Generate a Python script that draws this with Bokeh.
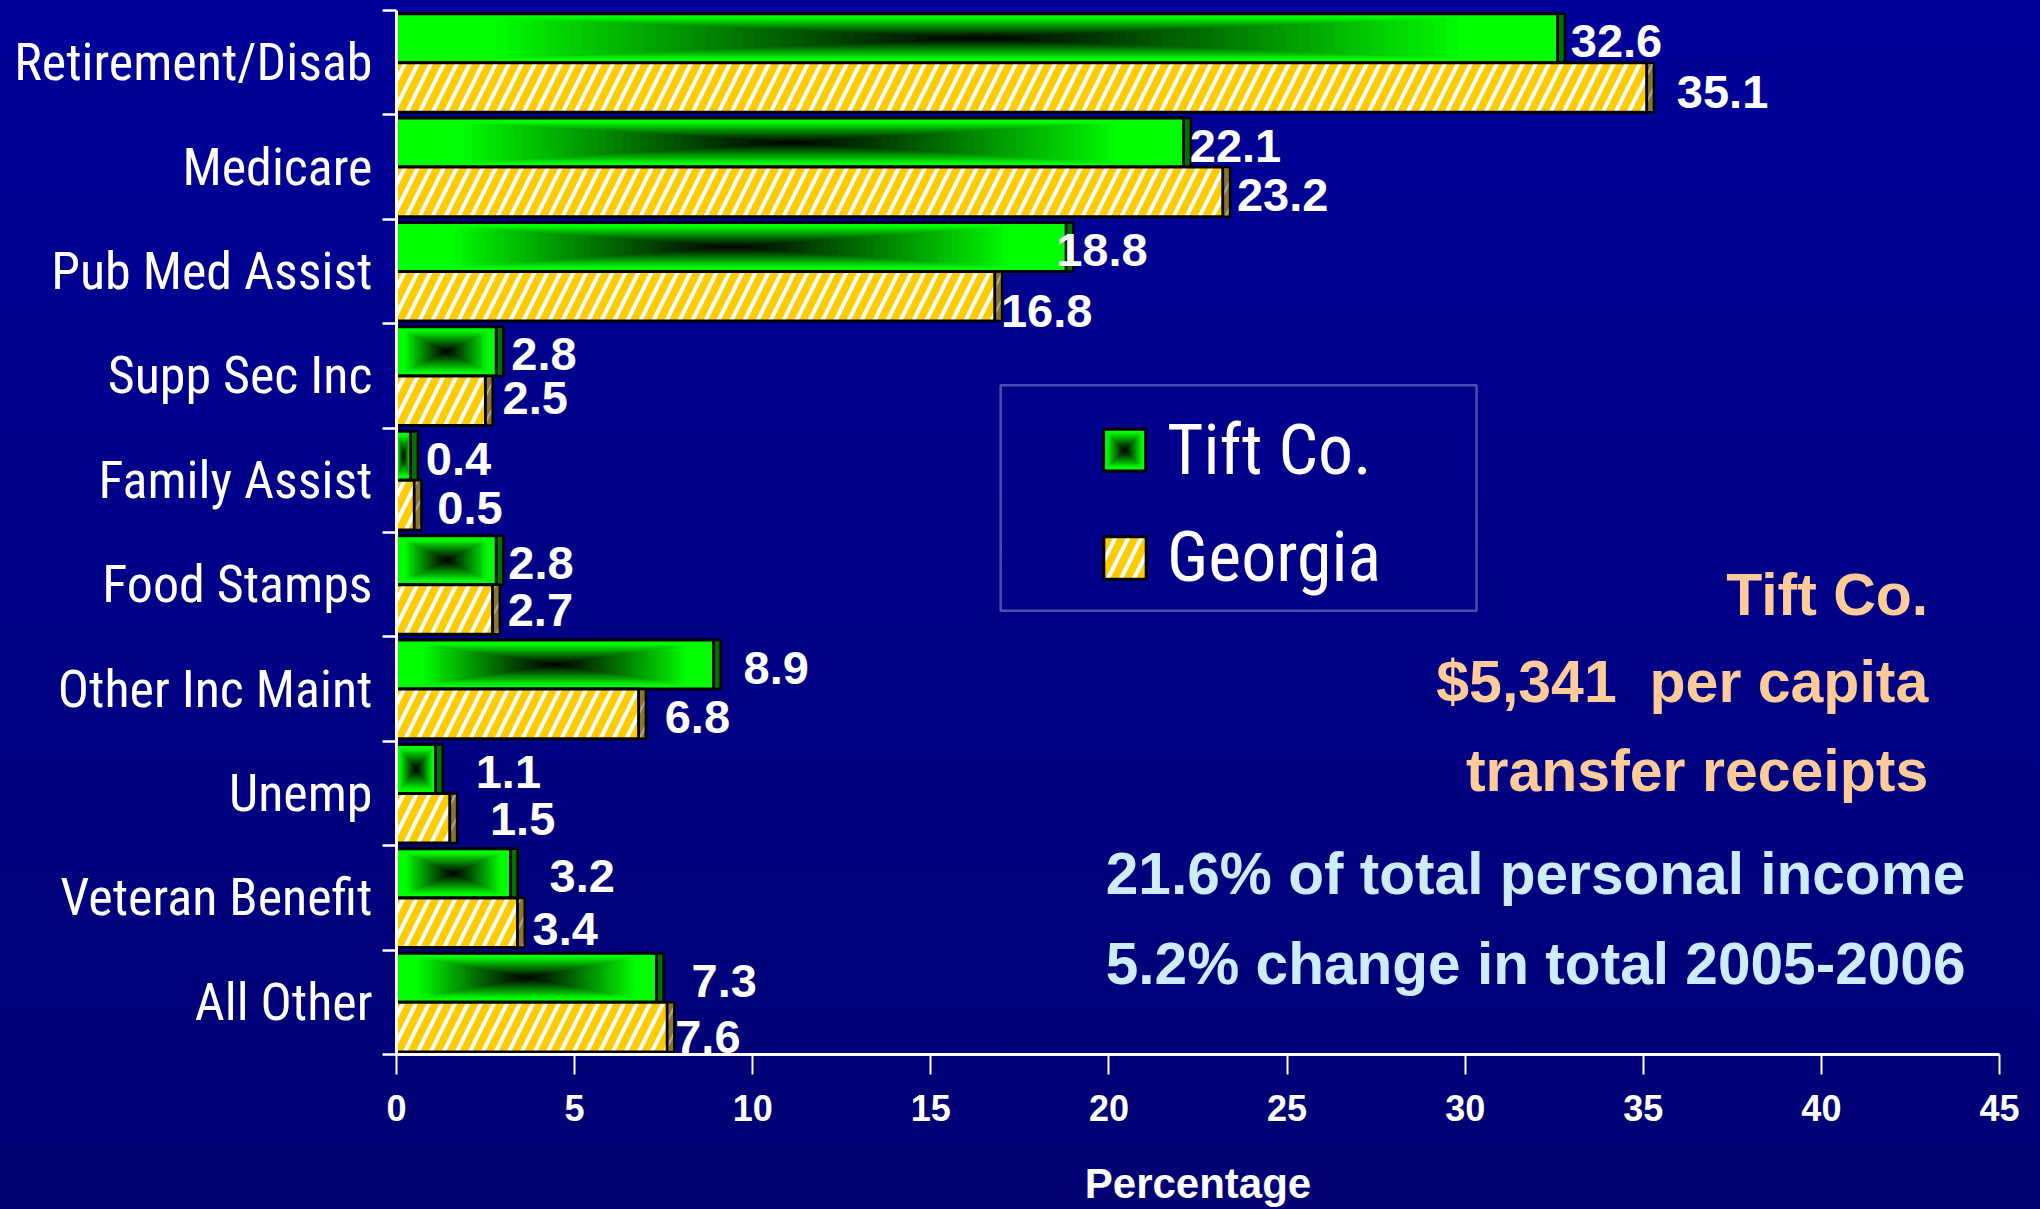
import subprocess
import numpy as np
from bokeh.plotting import figure
from bokeh.models import (ColumnDataSource, Range1d, FixedTicker, Legend, LegendItem,
                          Label, BoxAnnotation)
from bokeh.embed import file_html
from bokeh.resources import INLINE
from bokeh.core.properties import value

# ---------------- data ----------------
CATEGORIES = ["Retirement/Disab", "Medicare", "Pub Med Assist", "Supp Sec Inc",
              "Family Assist", "Food Stamps", "Other Inc Maint", "Unemp",
              "Veteran Benefit", "All Other"]
TIFT = [32.6, 22.1, 18.8, 2.8, 0.4, 2.8, 8.9, 1.1, 3.2, 7.3]
GEORGIA = [35.1, 23.2, 16.8, 2.5, 0.5, 2.7, 6.8, 1.5, 3.4, 7.6]
SERIES = ["Tift Co.", "Georgia"]
X_TICKS = [0, 5, 10, 15, 20, 25, 30, 35, 40, 45]
X_LABEL = "Percentage"
NOTE_PEACH = ["Tift Co.", "$5,341\u00a0 per capita", "transfer receipts"]
NOTE_BLUE = ["21.6% of total personal income", "5.2% change in total 2005-2006"]

# label nudges in screen px (placement of value labels as in the original)
TIFT_LABEL_DX = [13, 6, -10, 15, 15, 12, 30, 40, 39, 35]
GEORGIA_LABEL_DX = [30, 14, 6, 17, 23, 15, 26, 40, 15, 8]
GEORGIA_LABEL_DY = [5, 3, 15, -3, 3, 1, 3, 1, 6, 10]


# ---------------- fonts ----------------
def _families():
    try:
        return subprocess.run(["fc-list", ":", "family"], capture_output=True,
                              text=True, timeout=20).stdout.lower()
    except Exception:
        return ""


_fam = _families()
NARROW = "DejaVu Sans Condensed"
for cand in ["Liberation Sans Narrow", "Arial Narrow", "Roboto Condensed",
             "Open Sans Condensed", "DejaVu Sans Condensed"]:
    if cand.lower() in _fam:
        NARROW = cand
        break
BOLD = "Liberation Sans"

# ---------------- styling ----------------
GREEN = "#00ff00"
GREEN_SIDE = "#007000"
YELLOW = "#ffcc00"
YELLOW_SIDE = "#8a7530"
PEACH = "#ffcc99"
ICE = "#ccecff"

n = len(CATEGORIES)
centers = [n - 1 - i for i in range(n)]
G_TOP, G_BOT = 0.47, 0.0
Y_TOP, Y_BOT = 0.0, -0.475
SIDE = 0.2
SAT, NL = 0.85, 40


def rect_gradient(cx, cy, hw, hh, out):
    """Nested rectangles approximating a centre-black / edge-green gradient."""
    for k in range(NL):
        d = SAT * (1 - k / NL)
        g = int(round(255 * (d / SAT) ** 1.1))
        out["left"].append(cx - d * hw)
        out["right"].append(cx + d * hw)
        out["bottom"].append(cy - d * hh)
        out["top"].append(cy + d * hh)
        out["color"].append("#00%02x00" % g)


W, H = 2040, 1209
p = figure(width=W, height=H, output_backend="svg", toolbar_location=None,
           x_range=Range1d(0, 45), y_range=Range1d(-0.5, n - 0.5),
           min_border_left=396, min_border_right=41, min_border_top=10,
           min_border_bottom=155)
p.background_fill_alpha = 0
p.border_fill_alpha = 0
p.outline_line_color = None
p.grid.visible = False

# ---- green (Tift) bars: base, rectangular gradient, outline, side ----
tift_src = ColumnDataSource(dict(
    left=[0] * n, right=TIFT,
    bottom=[c + G_BOT for c in centers], top=[c + G_TOP for c in centers]))
p.quad(left="left", right="right", bottom="bottom", top="top",
       source=tift_src, fill_color=GREEN, line_color=None)

grad = dict(left=[], right=[], bottom=[], top=[], color=[])
for v, c in zip(TIFT, centers):
    y0, y1 = c + G_BOT, c + G_TOP
    rect_gradient(v / 2, (y0 + y1) / 2, v / 2, (y1 - y0) / 2, grad)
p.quad(left="left", right="right", bottom="bottom", top="top",
       source=ColumnDataSource(grad), fill_color="color", line_color=None)

p.quad(left="left", right="right", bottom="bottom", top="top",
       source=tift_src, fill_color=None, line_color="black", line_width=3)
p.quad(left=TIFT, right=[v + SIDE for v in TIFT],
       bottom=[c + G_BOT for c in centers], top=[c + G_TOP for c in centers],
       fill_color=GREEN_SIDE, line_color="black", line_width=2.5)
# invisible proxy of the Tift bars: the legend swatch is painted separately below
g_proxy = p.quad(left="left", right="right", bottom="bottom", top="top",
                 source=tift_src, fill_alpha=0, line_alpha=0)

# ---- yellow hatched (Georgia) bars ----
geo_src = ColumnDataSource(dict(
    left=[0] * n, right=GEORGIA,
    bottom=[c + Y_BOT for c in centers], top=[c + Y_TOP for c in centers]))
y_r = p.quad(left="left", right="right", bottom="bottom", top="top", source=geo_src,
             fill_color=YELLOW, hatch_pattern="/", hatch_color="white",
             hatch_weight=4, hatch_scale=26, line_color="black", line_width=3)
p.quad(left=GEORGIA, right=[v + SIDE for v in GEORGIA],
       bottom=[c + Y_BOT for c in centers], top=[c + Y_TOP for c in centers],
       fill_color=YELLOW_SIDE, hatch_pattern="/", hatch_color="#b0a890",
       hatch_weight=2, hatch_scale=26, line_color="black", line_width=2.5)

# ---- value labels ----
p.text(x=TIFT, y=[c + (G_TOP + G_BOT) / 2 for c in centers],
       text=["%.1f" % v for v in TIFT], x_offset=TIFT_LABEL_DX,
       y_offset=[3] * n,
       text_font=value(BOLD), text_font_style="bold", text_font_size="47px",
       text_color="white", text_align="left", text_baseline="middle")
p.text(x=GEORGIA, y=[c + (Y_TOP + Y_BOT) / 2 for c in centers],
       text=["%.1f" % v for v in GEORGIA], x_offset=GEORGIA_LABEL_DX,
       y_offset=GEORGIA_LABEL_DY,
       text_font=value(BOLD), text_font_style="bold", text_font_size="47px",
       text_color="white", text_align="left", text_baseline="middle")

# ---- axes ----
xa = p.xaxis[0]
xa.ticker = FixedTicker(ticks=X_TICKS, minor_ticks=[])
xa.axis_line_color = "white"
xa.axis_line_width = 3
xa.major_tick_line_color = "white"
xa.major_tick_line_width = 2
xa.major_tick_out = 20
xa.major_tick_in = 0
xa.minor_tick_line_color = None
xa.major_label_text_color = "white"
xa.major_label_text_font = BOLD
xa.major_label_text_font_style = "bold"
xa.major_label_text_font_size = "36px"
xa.major_label_standoff = 20
xa.axis_label = X_LABEL
xa.axis_label_text_color = "white"
xa.axis_label_text_font = BOLD
xa.axis_label_text_font_style = "bold"
xa.axis_label_text_font_size = "42px"
xa.axis_label_standoff = 36

ya = p.yaxis[0]
ya.ticker = FixedTicker(ticks=centers, minor_ticks=[c + 0.5 for c in centers] + [-0.5])
ya.major_label_overrides = {c: name for c, name in zip(centers, CATEGORIES)}
ya.axis_line_color = "white"
ya.axis_line_width = 3
ya.major_tick_line_color = None
ya.major_tick_out = 0
ya.major_tick_in = 0
ya.minor_tick_line_color = "white"
ya.minor_tick_line_width = 2.5
ya.minor_tick_out = 14
ya.minor_tick_in = 0
ya.major_label_text_color = "white"
ya.major_label_text_font = NARROW
ya.major_label_text_font_size = "52px"
ya.major_label_standoff = 10

# ---- legend ----
box = BoxAnnotation(left=16.96, right=30.32, top=5.91, bottom=3.75,
                    fill_alpha=0, line_color="white", line_width=2.5)
p.add_layout(box)
legend = Legend(items=[LegendItem(label=SERIES[0], renderers=[g_proxy]),
                       LegendItem(label=SERIES[1], renderers=[y_r])],
                location=(702, 456), orientation="vertical",
                background_fill_alpha=0, border_line_color=None, padding=0, margin=0,
                spacing=25, glyph_width=53, glyph_height=53, label_standoff=16,
                label_text_font=NARROW, label_text_font_size="70px",
                label_text_color="white")
p.add_layout(legend)

# shaded swatch for the Tift legend entry (same look as the bars)
SW_X, SW_Y, SW_HW, SW_HH = 20.44, 5.289, 0.59, 0.201
p.quad(left=[SW_X - SW_HW], right=[SW_X + SW_HW], bottom=[SW_Y - SW_HH],
       top=[SW_Y + SW_HH], fill_color=GREEN, line_color=None)
sw = dict(left=[], right=[], bottom=[], top=[], color=[])
rect_gradient(SW_X, SW_Y, SW_HW, SW_HH, sw)
p.quad(left="left", right="right", bottom="bottom", top="top",
       source=ColumnDataSource(sw), fill_color="color", line_color=None)
p.quad(left=[SW_X - SW_HW], right=[SW_X + SW_HW], bottom=[SW_Y - SW_HH],
       top=[SW_Y + SW_HH], fill_color=None, line_color="black", line_width=3)

# ---- notes ----
for txt, yy in zip(NOTE_PEACH, [3.90, 3.07, 2.22]):
    p.add_layout(Label(x=43.0, y=yy, text=txt, text_align="right", text_baseline="middle",
                       text_font=BOLD, text_font_style="bold", text_font_size="59px",
                       text_color=PEACH))
for txt, yy in zip(NOTE_BLUE, [1.23, 0.37]):
    p.add_layout(Label(x=19.91, y=yy, text=txt, text_align="left", text_baseline="middle",
                       text_font=BOLD, text_font_style="bold", text_font_size="58.6px",
                       text_color=ICE))

html = file_html(p, INLINE)
css = ("<style>html{background:linear-gradient(to bottom,#000099,#000073) !important;"
       "min-height:100%;overflow:hidden;} body{background:transparent !important;"
       "overflow:hidden;}</style>")
html = html.replace("</head>", css + "</head>", 1)
open("out.html", "w").write(html)
